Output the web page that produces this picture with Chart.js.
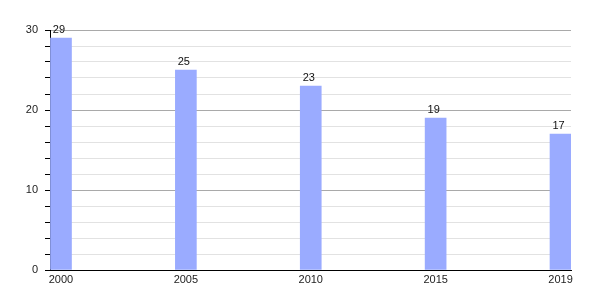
<!DOCTYPE html>
<html>
<head>
<meta charset="utf-8">
<script src="https://cdn.jsdelivr.net/npm/chart.js@4/dist/chart.umd.min.js"></script>
<style>
  html, body { margin: 0; padding: 0; background: #fff; }
  #c { display: block; }
</style>
</head>
<body>
<canvas id="c" width="600" height="300"></canvas>
<script>
const categories = ['2000', '2005', '2010', '2015', '2019'];
const values = [29, 25, 23, 19, 17];
const yTicks = [0, 10, 20, 30];
const yMinorStep = 2;

const FONT = '"Liberation Sans", Arial, sans-serif';

const dataPoints = categories.map((c, i) => ({ x: i, y: values[i] }));

const valueLabels = {
  id: 'valueLabels',
  afterDatasetsDraw(chart) {
    const ctx = chart.ctx;
    const meta = chart.getDatasetMeta(0);
    ctx.save();
    ctx.font = '11px ' + FONT;
    ctx.fillStyle = '#111';
    ctx.textAlign = 'center';
    ctx.textBaseline = 'bottom';
    meta.data.forEach((bar, i) => {
      ctx.fillText(String(values[i]), bar.x - 2, bar.y - 3);
    });
    ctx.restore();
  }
};

new Chart(document.getElementById('c'), {
  type: 'bar',
  data: {
    datasets: [{
      data: dataPoints,
      backgroundColor: '#9aabff',
      borderWidth: 0,
      barThickness: 21
    }]
  },
  options: {
    responsive: false,
    animation: false,
    devicePixelRatio: 1,
    layout: { padding: { top: 30, right: 29, left: 0, bottom: 0 } },
    plugins: { legend: { display: false }, tooltip: { enabled: false } },
    scales: {
      x: {
        type: 'linear',
        offset: false,
        min: -0.088,
        max: 4.084,
        afterBuildTicks(scale) {
          scale.ticks = categories.map((c, i) => ({ value: i }));
        },
        afterFit(scale) { scale.height = 30; },
        grid: { display: false, drawTicks: false, offset: false },
        border: { display: true, color: '#000', width: 1 },
        ticks: {
          padding: 3,
          autoSkip: false,
          maxRotation: 0,
          color: '#222',
          font: { family: FONT, size: 11 },
          callback: (v) => categories[v] !== undefined ? categories[v] : ''
        }
      },
      y: {
        min: yTicks[0],
        max: yTicks[yTicks.length - 1],
        afterBuildTicks(scale) {
          const t = [];
          for (let v = yTicks[0]; v <= yTicks[yTicks.length - 1]; v += yMinorStep) t.push({ value: v });
          scale.ticks = t;
        },
        afterFit(scale) { scale.width = 50; },
        border: { display: true, color: '#000', width: 1 },
        grid: {
          color: (ctx) => (yTicks.includes(ctx.tick && ctx.tick.value) ? '#a9a9a9' : '#e2e2e2'),
          tickColor: '#000',
          tickLength: 5,
          lineWidth: 1
        },
        ticks: {
          autoSkip: false,
          padding: 7,
          color: '#222',
          font: { family: FONT, size: 11 },
          callback: (v) => (yTicks.includes(v) ? String(v) : '')
        }
      }
    }
  },
  plugins: [valueLabels]
});
</script>
</body>
</html>
